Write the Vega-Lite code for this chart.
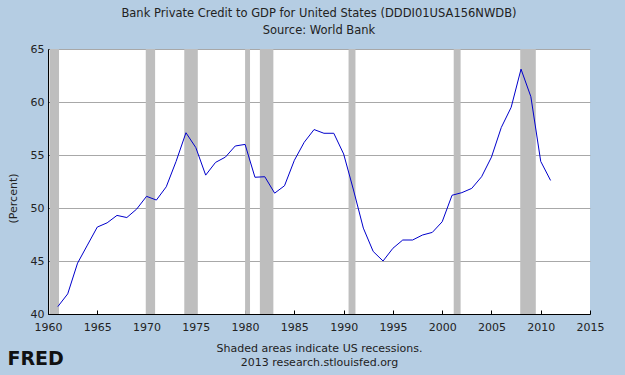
{
  "$schema": "https://vega.github.io/schema/vega-lite/v6.json",
  "width": 542,
  "height": 265,
  "autosize": {"type": "none"},
  "padding": {"left": 48, "top": 49, "right": 35, "bottom": 61},
  "background": "#b5cde3",
  "title": {
    "text": "Bank Private Credit to GDP for United States (DDDI01USA156NWDB)",
    "subtitle": "Source: World Bank",
    "font": "DejaVu Sans",
    "fontSize": 11.5,
    "fontWeight": "normal",
    "color": "#222222",
    "subtitleFont": "DejaVu Sans",
    "subtitleFontSize": 11.5,
    "subtitleColor": "#222222",
    "subtitlePadding": 5,
    "anchor": "middle",
    "frame": "group",
    "offset": 7
  },
  "datasets": {
    "series": [
      {"year": 1961, "value": 40.7},
      {"year": 1962, "value": 41.9},
      {"year": 1963, "value": 44.8},
      {"year": 1964, "value": 46.5},
      {"year": 1965, "value": 48.2},
      {"year": 1966, "value": 48.6},
      {"year": 1967, "value": 49.3},
      {"year": 1968, "value": 49.1},
      {"year": 1969, "value": 49.9},
      {"year": 1970, "value": 51.1},
      {"year": 1971, "value": 50.75},
      {"year": 1972, "value": 52.0},
      {"year": 1973, "value": 54.4},
      {"year": 1974, "value": 57.1},
      {"year": 1975, "value": 55.7},
      {"year": 1976, "value": 53.1},
      {"year": 1977, "value": 54.3},
      {"year": 1978, "value": 54.8},
      {"year": 1979, "value": 55.85},
      {"year": 1980, "value": 56.0},
      {"year": 1981, "value": 52.9},
      {"year": 1982, "value": 52.95},
      {"year": 1983, "value": 51.4},
      {"year": 1984, "value": 52.1},
      {"year": 1985, "value": 54.5},
      {"year": 1986, "value": 56.2},
      {"year": 1987, "value": 57.4},
      {"year": 1988, "value": 57.05},
      {"year": 1989, "value": 57.05},
      {"year": 1990, "value": 55.1},
      {"year": 1991, "value": 51.7},
      {"year": 1992, "value": 48.1},
      {"year": 1993, "value": 45.9},
      {"year": 1994, "value": 45.0},
      {"year": 1995, "value": 46.2},
      {"year": 1996, "value": 46.98},
      {"year": 1997, "value": 46.98},
      {"year": 1998, "value": 47.45},
      {"year": 1999, "value": 47.7},
      {"year": 2000, "value": 48.7},
      {"year": 2001, "value": 51.2},
      {"year": 2002, "value": 51.45},
      {"year": 2003, "value": 51.85},
      {"year": 2004, "value": 52.95},
      {"year": 2005, "value": 54.8},
      {"year": 2006, "value": 57.6},
      {"year": 2007, "value": 59.5},
      {"year": 2008, "value": 63.1},
      {"year": 2009, "value": 60.5},
      {"year": 2010, "value": 54.4},
      {"year": 2011, "value": 52.6}
    ],
    "recessions": [
      {"start": 1960.15, "end": 1961.12},
      {"start": 1969.92, "end": 1970.87},
      {"start": 1973.83, "end": 1975.2},
      {"start": 1980.0, "end": 1980.5},
      {"start": 1981.5, "end": 1982.87},
      {"start": 1990.5, "end": 1991.2},
      {"start": 2001.17, "end": 2001.87},
      {"start": 2007.92, "end": 2009.5}
    ]
  },
  "config": {
    "view": {"fill": "white", "stroke": null},
    "axis": {
      "labelFont": "DejaVu Sans",
      "labelFontSize": 11,
      "labelColor": "#222222",
      "titleFont": "DejaVu Sans",
      "titleFontSize": 11,
      "titleFontWeight": "normal",
      "titleColor": "#222222",
      "domainColor": "#000000",
      "tickColor": "#000000",
      "gridColor": "#a8a8a8",
      "gridWidth": 1
    }
  },
  "layer": [
    {
      "data": {"name": "recessions"},
      "mark": {"type": "rect", "color": "#bebebe", "clip": true},
      "encoding": {
        "x": {
          "field": "start",
          "type": "quantitative",
          "scale": {"domain": [1960, 2015], "nice": false, "zero": false},
          "axis": {
            "values": [1960, 1965, 1970, 1975, 1980, 1985, 1990, 1995, 2000, 2005, 2010, 2015],
            "format": "d",
            "grid": false,
            "tickSize": -4,
            "labelPadding": 11,
            "labelFlush": false,
            "labelOverlap": false,
            "title": ["Shaded areas indicate US recessions.", "2013 research.stlouisfed.org"],
            "titleY": 28,
            "titleBaseline": "top",
            "titleLineHeight": 14
          }
        },
        "x2": {"field": "end"},
        "y": {"datum": 40, "type": "quantitative"},
        "y2": {"datum": 65}
      }
    },
    {
      "data": {"name": "series"},
      "mark": {"type": "line", "color": "#0000cc", "strokeWidth": 1},
      "encoding": {
        "x": {
          "field": "year",
          "type": "quantitative",
          "axis": {
            "orient": "top",
            "labels": false,
            "ticks": false,
            "domain": false,
            "grid": false,
            "title": "FRED",
            "titleFont": "DejaVu Sans",
            "titleFontSize": 19,
            "titleFontWeight": "bold",
            "titleColor": "#111111",
            "titleX": -41,
            "titleY": 309,
            "titleAlign": "left",
            "titleBaseline": "middle",
            "titleAngle": 0
          }
        },
        "y": {
          "field": "value",
          "type": "quantitative",
          "scale": {"domain": [40, 65], "nice": false, "zero": false},
          "axis": {
            "values": [40, 45, 50, 55, 60, 65],
            "grid": true,
            "tickSize": -4,
            "labelPadding": 8,
            "labelFlush": false,
            "title": "(Percent)",
            "titleX": -35,
            "titleY": 149,
            "titleAlign": "center",
            "titleBaseline": "middle",
            "titleAngle": 270
          }
        }
      }
    }
  ],
  "resolve": {"axis": {"x": "independent"}}
}
